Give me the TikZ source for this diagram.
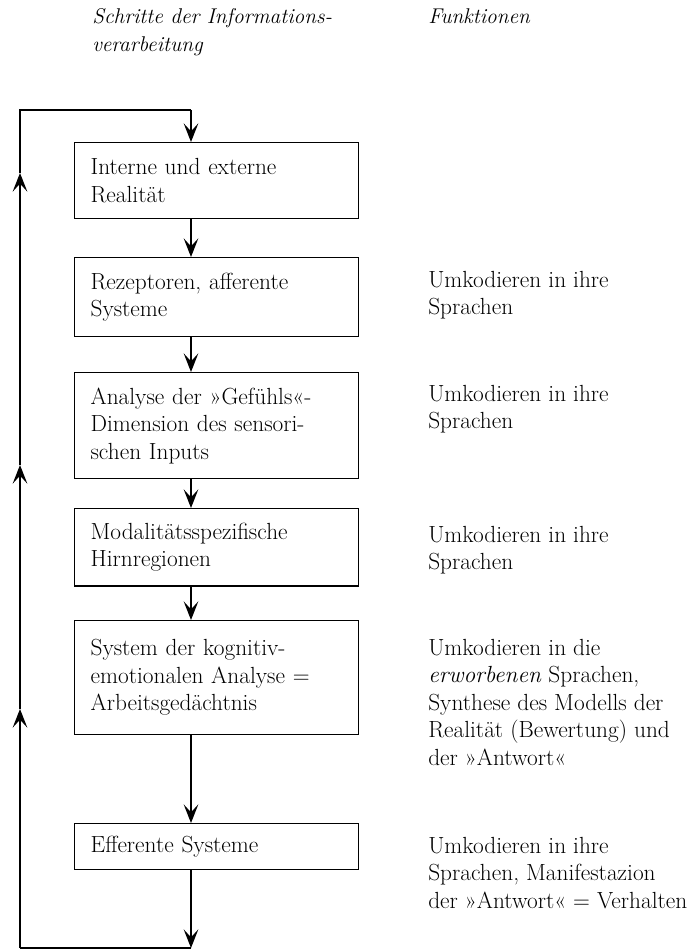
\documentclass[tikz,border=0pt]{standalone}
\usetikzlibrary{arrows.meta}
\newcommand{\boxfont}{\fontsize{17.5}{20.6}\selectfont}
\newcommand{\headfont}{\fontsize{16}{21}\selectfont\itshape}
\begin{document}
\begin{tikzpicture}[x=0.75pt, y=-0.75pt,
    stepbox/.style={draw, line width=0.9pt, anchor=north west, text width=189pt,
        inner xsep=12pt, inner ysep=0pt, align=left, font=\boxfont},
    note/.style={anchor=north west, inner sep=0pt, align=left, font=\boxfont},
    flow/.style={-{Stealth[length=14pt, width=11pt, inset=6pt]}, line width=0.9pt},
    loop/.style={line width=0.9pt}]
    \useasboundingbox (0,0) rectangle (694,952);
    % headers
    \node[note, font=\headfont] (head1) at (92,8) {Schritte der Informations-\\verarbeitung};
    \node[note, font=\headfont] (head2) at (428,8) {Funktionen};
    % steps
    \node[stepbox, minimum height=57pt] (real) at (74,142) {Interne und externe\\Realität};
    \node[stepbox, minimum height=59pt] (rezep) at (74,257) {Rezeptoren, afferente\\Systeme};
    \node[stepbox, minimum height=79.5pt] (gefuehl) at (74,372) {Analyse der »Gefühls«-\\Dimension des sensori-\\schen Inputs};
    \node[stepbox, minimum height=58pt] (modal) at (74,508) {Modalitätsspezifische\\Hirnregionen};
    \node[stepbox, minimum height=85.5pt] (kogn) at (74,620) {System der kognitiv-\\emotionalen Analyse =\\Arbeitsgedächtnis};
    \node[stepbox, minimum height=34.5pt] (effer) at (74,823) {Efferente Systeme};
    % functions
    \node[note] (f-rezep) at (428,271) {Umkodieren in ihre\\Sprachen};
    \node[note] (f-gefuehl) at (428,385) {Umkodieren in ihre\\Sprachen};
    \node[note] (f-modal) at (428,526) {Umkodieren in ihre\\Sprachen};
    \node[note] (f-kogn) at (428,639) {Umkodieren in die\\\textit{erworbenen} Sprachen,\\Synthese des Modells der\\Realität (Bewertung) und\\der »Antwort«};
    \node[note] (f-effer) at (428,837) {Umkodieren in ihre\\Sprachen, Manifestazion\\der »Antwort« = Verhalten};
    % connectors
    \coordinate (ax) at (191,0);
    \coordinate (topr) at (191,110);
    \coordinate (topl) at (20,110);
    \coordinate (botr) at (191,948);
    \coordinate (botl) at (20,948);
    \coordinate (up1) at (20,709);
    \coordinate (up2) at (20,465);
    \coordinate (up3) at (20,173);
    \draw[flow] (real.south -| ax) -- (rezep.north -| ax);
    \draw[flow] (rezep.south -| ax) -- (gefuehl.north -| ax);
    \draw[flow] (gefuehl.south -| ax) -- (modal.north -| ax);
    \draw[flow] (modal.south -| ax) -- (kogn.north -| ax);
    \draw[flow] (kogn.south -| ax) -- (effer.north -| ax);
    \draw[flow] (effer.south -| ax) -- (botr);
    % feedback loop
    \draw[loop] (botr) -- (botl);
    \draw[flow] (botl) -- (up1);
    \draw[flow] (up1) -- (up2);
    \draw[flow] (up2) -- (up3);
    \draw[loop] (up3) -- (topl) -- (topr);
    \draw[flow] (topr) -- (real.north -| ax);
\end{tikzpicture}
\end{document}
